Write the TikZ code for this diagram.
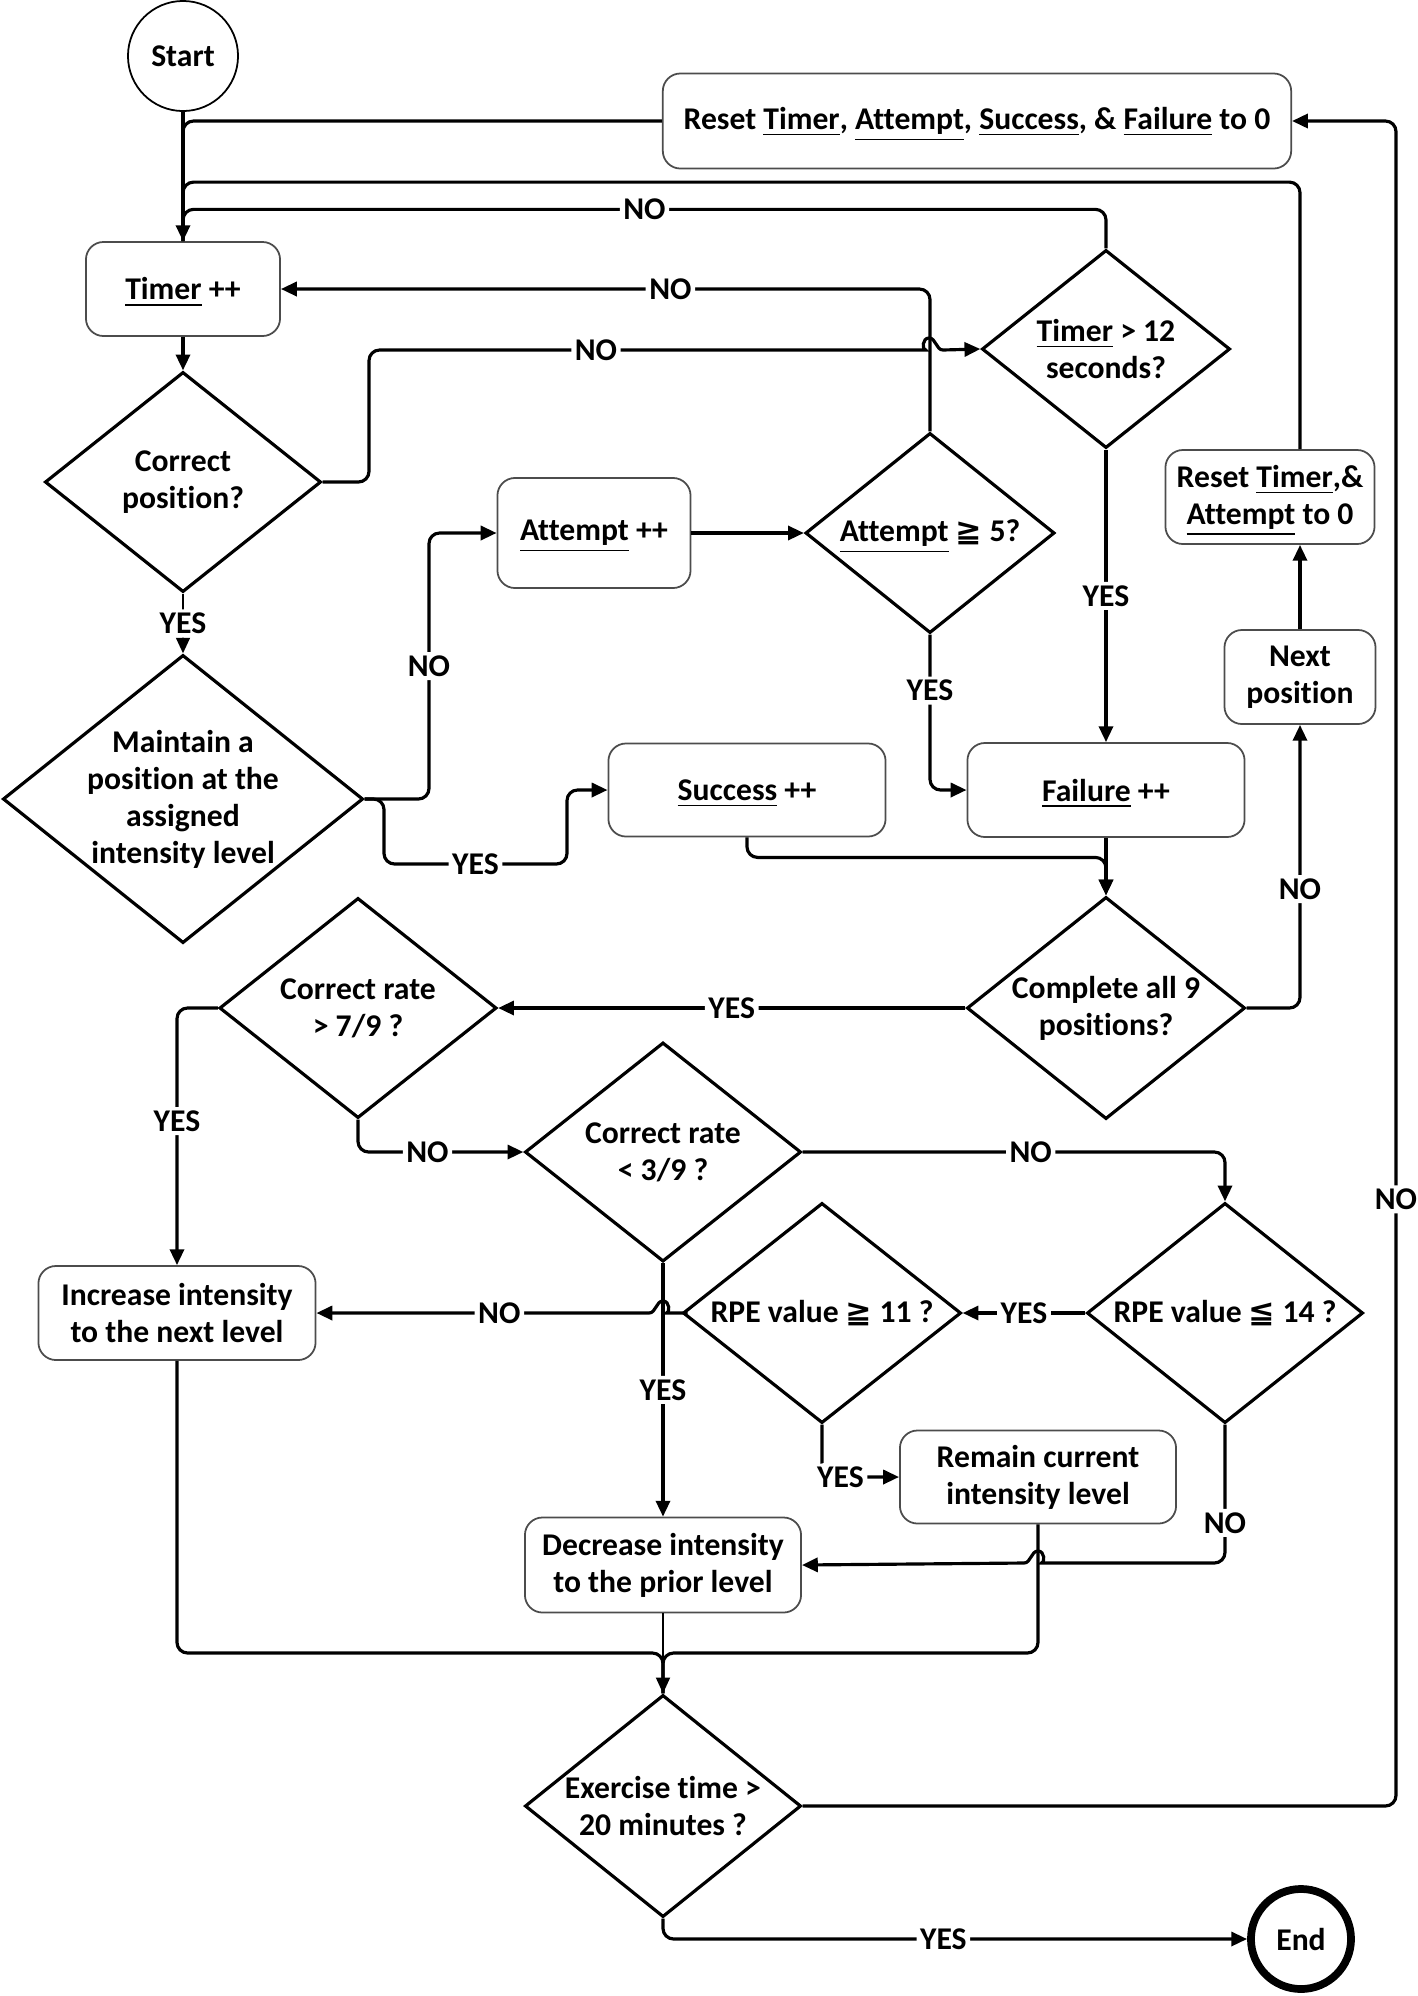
\documentclass[tikz,border=0pt]{standalone}
\usepackage{fontspec}
\setmainfont{Carlito}[Ligatures=CommonOff]
\newfontfamily\symfont{DejaVu Sans}
\usetikzlibrary{arrows.meta,shapes.geometric}
\newcommand\ul[1]{\smash{\underline{#1}}\vphantom{#1}}
\def\hopr#1#2{-- (#1-14,#2) [sharp corners] .. controls (#1-7,#2) and (#1-7,#2-12) .. (#1,#2-12) .. controls (#1+7,#2-12) and (#1+7,#2) .. (#1+14,#2) [rounded corners=3pt]}
\def\hopl#1#2{-- (#1+14,#2) [sharp corners] .. controls (#1+7,#2) and (#1+7,#2-12) .. (#1,#2-12) .. controls (#1-7,#2-12) and (#1-7,#2) .. (#1-14,#2) [rounded corners=3pt]}
\tikzset{
	process/.style={draw=black!70, line width=0.5pt, rounded corners=5pt, align=center, inner sep=0pt},
	decision/.style={diamond, draw, line width=0.9pt, inner sep=0pt},
	dtext/.style={align=center, inner sep=0pt},
	conn/.style={line width=0.9pt, rounded corners=3pt},
	arr/.style={conn, -{Triangle[length=4.5pt,width=4pt]}},
	lbl/.style={fill=white, inner sep=1pt}
}

\begin{document}
\begin{tikzpicture}[x=0.01cm, y=-0.01cm, font=\fontsize{9}{10.5}\selectfont\bfseries]
			%%%%% START %%%%%
			\useasboundingbox (0,0) rectangle (1418,1996);
			
			\node[circle, draw, line width=0.5pt, minimum size=1.1cm, inner sep=0pt] (start) at (183,56) {Start};
			\node[process, minimum width=6.28cm, minimum height=0.95cm] (reset) at (977,121) {Reset \ul{Timer}, \ul{Attempt}, \ul{Success}, \& \ul{Failure} to 0};
			\node[process, minimum width=1.94cm, minimum height=0.94cm] (timer) at (183,289) {\ul{Timer} ++};
			
			\node[decision, minimum width=2.76cm, minimum height=2.2cm] (cpos) at (183,482) {};
			\node[dtext] (cpos-t) at (cpos) {Correct\\position?};
			\node[decision, minimum width=3.6cm, minimum height=2.88cm] (maintain) at (183,799) {};
			\node[dtext] (maintain-t) at (maintain) {Maintain a\\position at the\\assigned\\intensity level};
			
			\node[decision, minimum width=2.48cm, minimum height=1.98cm] (tmr) at (1106,349) {};
			\node[dtext] (tmr-t) at (tmr) {\ul{Timer} > 12\\seconds?};
			\node[process, minimum width=1.93cm, minimum height=1.1cm] (attempt) at (594,533) {\ul{Attempt} ++};
			\node[decision, minimum width=2.49cm, minimum height=2.0cm] (att) at (930,533) {};
			\node[dtext] (att-t) at (att) {\ul{Attempt} {\symfont ≧} 5?};
			
			\node[process, minimum width=2.77cm, minimum height=0.93cm] (success) at (747,790) {\ul{Success} ++};
			\node[process, minimum width=2.77cm, minimum height=0.94cm] (failure) at (1106,790) {\ul{Failure} ++};
			\node[process, minimum width=1.51cm, minimum height=0.94cm] (next) at (1300,677) {Next\\position};
			\node[process, minimum width=2.09cm, minimum height=0.94cm] (resetta) at (1270,497) {Reset \ul{Timer},\&\\\ul{Attempt} to 0};
			
			\node[decision, minimum width=2.78cm, minimum height=2.22cm] (complete) at (1106,1008) {};
			\node[dtext] (complete-t) at (complete) {Complete all 9\\positions?};
			\node[decision, minimum width=2.77cm, minimum height=2.2cm] (rate7) at (358,1008) {};
			\node[dtext] (rate7-t) at (rate7) {Correct rate\\> 7/9 ?};
			\node[decision, minimum width=2.76cm, minimum height=2.19cm] (rate3) at (663,1152) {};
			\node[dtext] (rate3-t) at (rate3) {Correct rate\\< 3/9 ?};
			\node[decision, minimum width=2.76cm, minimum height=2.2cm] (rpe14) at (1225,1313) {};
			\node[dtext] (rpe14-t) at (rpe14) {RPE value {\symfont ≦} 14 ?};
			\node[decision, minimum width=2.78cm, minimum height=2.2cm] (rpe11) at (822,1313) {};
			\node[dtext] (rpe11-t) at (rpe11) {RPE value {\symfont ≧} 11 ?};
			
			\node[process, minimum width=2.77cm, minimum height=0.94cm] (increase) at (177,1313) {Increase intensity\\to the next level};
			\node[process, minimum width=2.76cm, minimum height=0.93cm] (remain) at (1038,1477) {Remain current\\intensity level};
			\node[process, minimum width=2.76cm, minimum height=0.95cm] (decrease) at (663,1565) {Decrease intensity\\to the prior level};
			
			\node[decision, minimum width=2.76cm, minimum height=2.22cm] (exer) at (663,1806) {};
			\node[dtext] (exer-t) at (exer) {Exercise time >\\20 minutes ?};
			\node[circle, draw, line width=2.2pt, minimum size=1.0cm, inner sep=0pt] (end) at (1301,1939) {End};
			
			% loop back to the timer
			\draw[arr] (start) -- (timer);
			\draw[conn] (reset.west) -| (timer.north);
			\draw[conn] (next.north |- resetta.north) -- ++(0,-267) -| (timer.north);
			\draw[conn] (tmr.north) -- ++(0,-39) -| node[lbl, pos=0.25] {NO} (timer.north);
			\draw[arr] (att.north) |- node[lbl, pos=0.7] {NO} (timer.east);
			
			% one position
			\draw[arr] (timer) -- (cpos);
			\draw[arr] (cpos.east) -- (369,482) -- (369,350) -- node[lbl] {NO} (823,350) \hopr{929}{350} -- (tmr.west);
			\draw[arr, line width=0.6pt] (cpos) -- node[lbl] {YES} (maintain);
			\draw[arr] (maintain.east) -- (429,799) |- node[lbl, pos=0.25] {NO} (attempt.west);
			\draw[arr] (maintain.east) -- (384,799) -- (384,864) -- node[lbl] {YES} (567,864) |- (success.west);
			\draw[arr] (attempt) -- (att);
			\draw[arr] (att.south) |- node[lbl, pos=0.18] {YES} (failure.west);
			\draw[arr] (tmr) -- node[lbl] {YES} (failure);
			\draw[arr] (success.south) -- ++(0,20) -| (complete.north);
			\draw[arr] (failure) -- (complete);
			\draw[arr] (complete.east) -| node[lbl, pos=0.71] {NO} (next.south);
			\draw[arr] (next.north) -- (next.north |- resetta.south);
			
			% intensity
			\draw[arr] (complete) -- node[lbl] {YES} (rate7);
			\draw[arr] (rate7.west) -| node[lbl, pos=0.72] {YES} (increase.north);
			\draw[arr] (rate7.south) |- node[lbl, pos=0.71] {NO} (rate3.west);
			\draw[arr] (rate3.east) -| node[lbl, pos=0.27] {NO} (rpe14.north);
			\draw[arr] (rate3) -- node[lbl] {YES} (decrease);
			\draw[arr] (rpe14) -- node[lbl] {YES} (rpe11);
			\draw[arr] (rpe11.west) \hopl{663}{1313} -- node[lbl, pos=0.45] {NO} (increase.east);
			\draw[arr] (rpe11.south) |- node[lbl, pos=0.62] {YES} (remain.west);
			\draw[arr] (rpe14.south) -- node[lbl, pos=0.71] {NO} (1225,1563) \hopl{1038}{1563} -- (decrease.east);
			
			% exercise time
			\draw[conn] (remain.south) -- (1038,1653) -| (exer.north);
			\draw[conn] (increase.south) -- (177,1653) -| (exer.north);
			\draw[arr, line width=0.5pt] (decrease) -- (exer);
			\draw[arr] (exer.east) -| node[lbl, pos=0.68] {NO} (1396,121) -- (reset.east);
			\draw[arr] (exer.south) |- node[lbl, pos=0.74] {YES} (end.west);
			
			%%%%% END %%%%%
\end{tikzpicture}
\end{document}
